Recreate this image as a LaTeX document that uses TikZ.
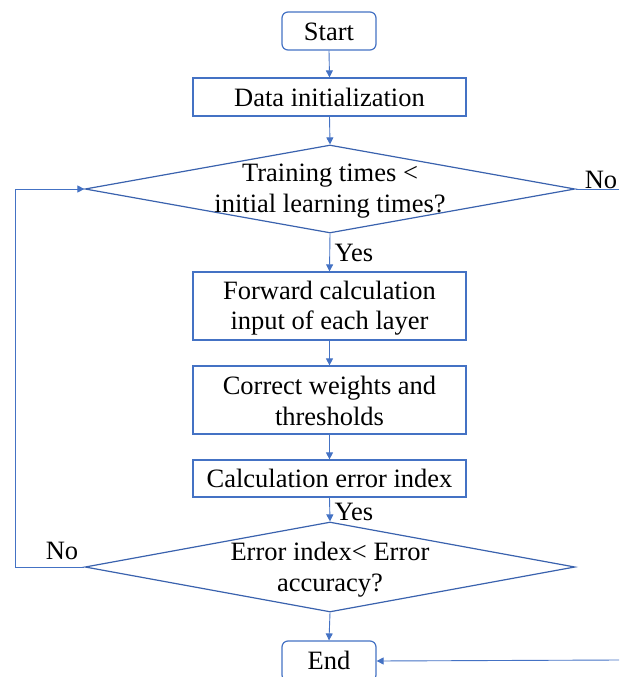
\documentclass[tikz,border=0pt]{standalone}
\usepackage{fontspec}
\setmainfont{Liberation Serif}
\usetikzlibrary{arrows.meta,shapes.geometric}
\definecolor{bl}{HTML}{4472C4}
\definecolor{bd}{HTML}{3A62AE}
\begin{document}
\begin{tikzpicture}[x=1pt,y=-1pt,
  lbl/.style={font=\fontsize{26.5}{30.5}\selectfont, text=black},
  boxs/.style={draw=bl, line width=1.2pt, fill=white, inner sep=0pt},
  arr/.style={draw=bl, line width=0.9pt, -{Triangle[width=7pt,length=7pt]}},
  ln/.style={draw=bl, line width=0.9pt}]
\useasboundingbox (0,0) rectangle (619,677);
% nodes
\node[boxs, rounded corners=6pt, minimum width=94pt, minimum height=38pt] (start) at (329,31) {};
\node[lbl] (startt) at (329,32) {Start};
\node[boxs, minimum width=273pt, minimum height=38pt] (init) at (329.5,97) {};
\node[lbl] at (329.5,97) {Data initialization};
\node[boxs, draw=bd, diamond, aspect=5.5, minimum width=490pt, minimum height=88pt, inner sep=0pt] (d1) at (330,189) {};
\node[lbl, align=center] at (330,191) {Training times <\\initial learning times?};
\node[boxs, minimum width=273pt, minimum height=68pt] (fwd) at (329.5,306) {};
\node[lbl, align=center] at (329.5,308) {Forward calculation\\input of each layer};
\node[boxs, minimum width=273pt, minimum height=68pt] (cor) at (329.5,400) {};
\node[lbl, align=center] at (329.5,401) {Correct weights and\\thresholds};
\node[boxs, minimum width=273pt, minimum height=37pt] (calc) at (329.5,478.5) {};
\node[lbl] at (329.5,478.5) {Calculation error index};
\node[boxs, draw=bd, diamond, aspect=5.45, minimum width=490pt, minimum height=90pt, inner sep=0pt] (d2) at (330,567) {};
\node[lbl, align=center] at (330,569.5) {Error index< Error\\accuracy?};
\node[boxs, rounded corners=6pt, minimum width=94pt, minimum height=40pt] (end) at (329,661) {};
\node[lbl] at (329,660) {End};
% labels
\node[lbl] (yes1) at (354,253) {Yes};
\node[lbl] (yes2) at (354,512) {Yes};
\node[lbl] (no1) at (601,180) {No};
\node[lbl] (no2) at (62,551) {No};
\coordinate (rt1) at (619,189);
\coordinate (rt2) at (619,660);
\coordinate (lc1) at (15,567);
\coordinate (lc2) at (15,189);
% connectors
\draw[arr] (start.south) -- (init.north);
\draw[arr] (init.south) -- (d1.north);
\draw[arr] (d1.south) -- (fwd.north);
\draw[arr] (fwd.south) -- (cor.north);
\draw[arr] (cor.south) -- (calc.north);
\draw[arr] (calc.south) -- (d2.north);
\draw[arr] (d2.south) -- (end.north);
\draw[ln] (d1.east) -- (rt1);
\draw[arr] (rt2) -- (end.east);
\draw[arr] (d2.west) -- (lc1) -- (lc2) -- (d1.west);
\end{tikzpicture}
\end{document}
